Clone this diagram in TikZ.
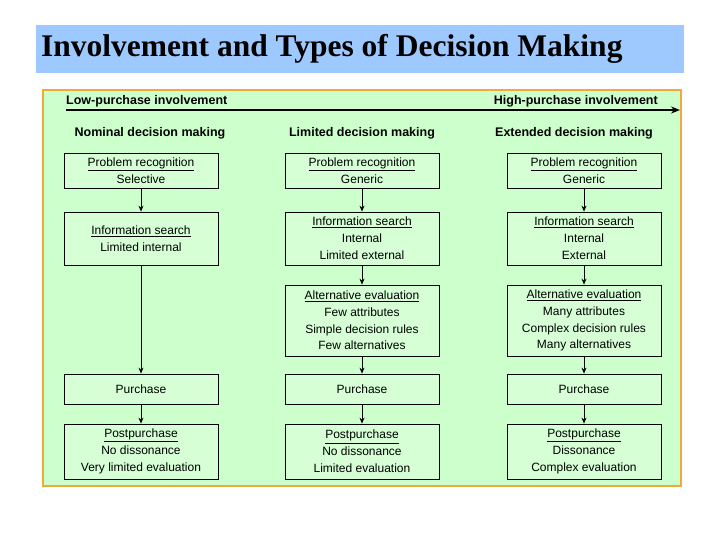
\documentclass[tikz,border=0pt]{standalone}
\usepackage{fontspec}
\setmainfont{Liberation Serif}
\setsansfont{Liberation Sans}
\usetikzlibrary{arrows.meta}
\begin{document}
\begin{tikzpicture}[x=1pt,y=-1pt,
  bx/.style={draw=black,fill={rgb,255:red,214;green,255;blue,214},line width=0.8pt,align=center,font=\sffamily\fontsize{12}{16.8}\selectfont,minimum width=154pt,inner sep=0pt},
  hd/.style={font=\sffamily\bfseries\fontsize{12.5}{14}\selectfont,inner sep=0pt},
  ar/.style={-{Stealth[length=6pt,width=5pt]},line width=0.8pt}]
\useasboundingbox (0,0) rectangle (720,540);
\fill[fill={rgb,255:red,158;green,201;blue,255}] (36,25) rectangle (684,73);
\node[anchor=west,font=\bfseries\fontsize{31.5}{34}\selectfont,inner sep=0pt] (title) at (41,49) {Involvement and Types of Decision Making};
\draw[draw={rgb,255:red,240;green,170;blue,60},fill={rgb,255:red,204;green,255;blue,204},line width=1.5pt] (43,90) rectangle (681,486);
\coordinate (l) at (66,110); \coordinate (r) at (680,110);
\draw[-{Stealth[length=9pt,width=7pt]},line width=1.4pt] (l) -- (r);
\node[hd,anchor=west] (low) at (66,101) {Low-purchase involvement};
\node[hd,anchor=east] (high) at (658,101) {High-purchase involvement};
\node[hd] (h1) at (150,133) {Nominal decision making};
\node[hd] (h2) at (362,133) {Limited decision making};
\node[hd] (h3) at (574,133) {Extended decision making};
% column 1
\node[bx,minimum height=35pt] (p1) at (141,170.5) {\underline{Problem recognition}\\Selective};
\node[bx,minimum height=53pt] (i1) at (141,238.5) {\underline{Information search}\\Limited internal};
\node[bx,minimum height=30pt] (u1) at (141,389) {Purchase};
\node[bx,minimum height=55pt] (o1) at (141,451.5) {\underline{Postpurchase}\\No dissonance\\Very limited evaluation};
% column 2
\node[bx,minimum height=35pt] (p2) at (362,170.5) {\underline{Problem recognition}\\Generic};
\node[bx,minimum height=53pt] (i2) at (362,238.5) {\underline{Information search}\\Internal\\Limited external};
\node[bx,minimum height=71pt] (a2) at (362,320.5) {\underline{Alternative evaluation}\\Few attributes\\Simple decision rules\\Few alternatives};
\node[bx,minimum height=30pt] (u2) at (362,389) {Purchase};
\node[bx,minimum height=55pt] (o2) at (362,451.5) {\underline{Postpurchase}\\No dissonance\\Limited evaluation};
% column 3
\node[bx,minimum height=35pt] (p3) at (584,170.5) {\underline{Problem recognition}\\Generic};
\node[bx,minimum height=53pt] (i3) at (584,238.5) {\underline{Information search}\\Internal\\External};
\node[bx,minimum height=71pt] (a3) at (584,320.5) {\underline{Alternative evaluation}\\Many attributes\\Complex decision rules\\Many alternatives};
\node[bx,minimum height=30pt] (u3) at (584,389) {Purchase};
\node[bx,minimum height=55pt] (o3) at (584,451.5) {\underline{Postpurchase}\\Dissonance\\Complex evaluation};
\draw[ar] (p1) -- (i1); \draw[ar] (i1) -- (u1); \draw[ar] (u1) -- (o1);
\foreach \c in {2,3}{
 \draw[ar] (p\c) -- (i\c); \draw[ar] (i\c) -- (a\c); \draw[ar] (a\c) -- (u\c); \draw[ar] (u\c) -- (o\c);}
\end{tikzpicture}
\end{document}
